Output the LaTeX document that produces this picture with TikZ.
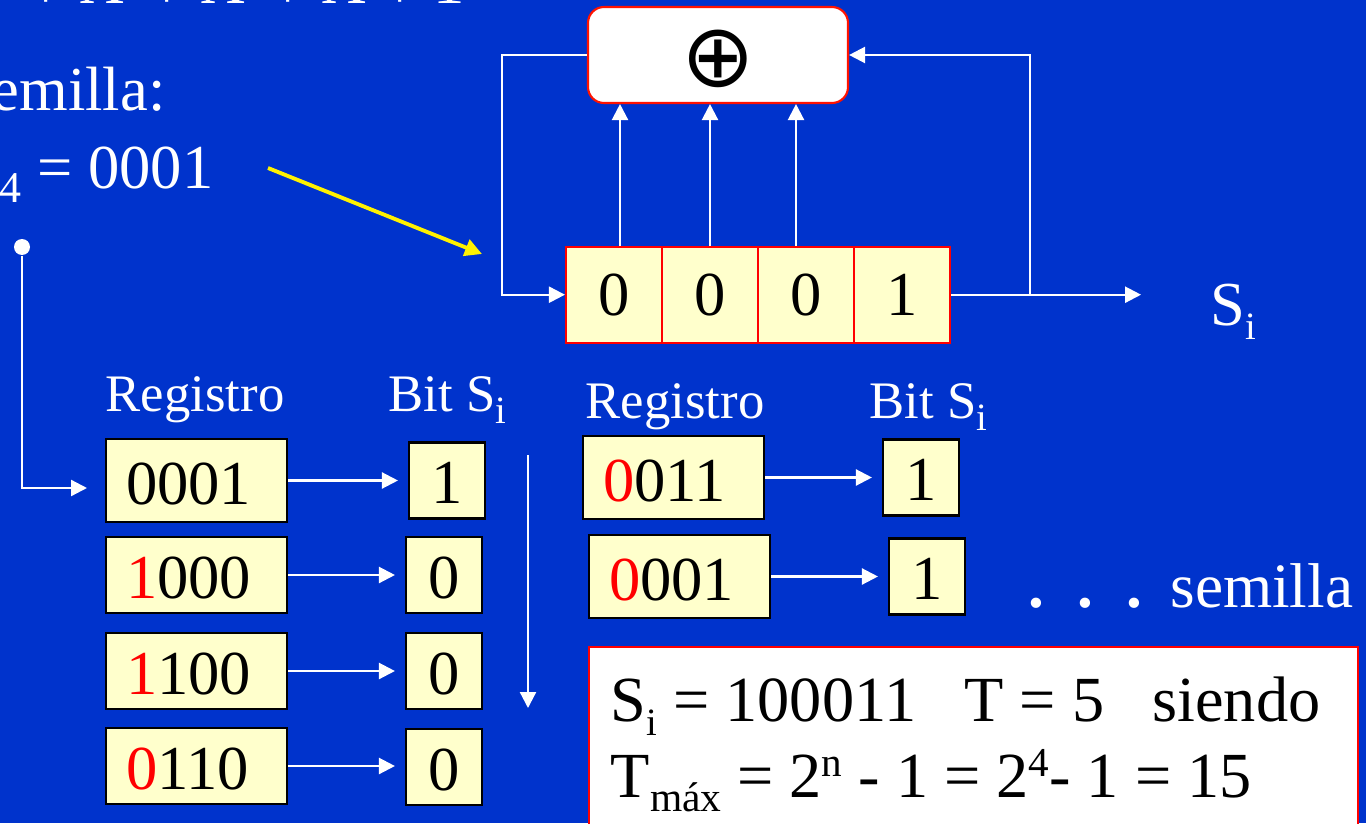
\documentclass[tikz,border=0pt]{standalone}
\usepackage{fontspec}
\usetikzlibrary{arrows.meta}
\setmainfont{Liberation Serif}
\newfontfamily\symbfont{DejaVu Sans}
\definecolor{slideblue}{HTML}{0033CC}
\definecolor{cellyellow}{HTML}{FFFFCC}
\newcommand{\bigtext}{\fontsize{17.8}{20}\selectfont}
\newcommand{\midtext}{\fontsize{15}{18}\selectfont}
\newcommand{\subi}[1]{\raisebox{-.23em}{\fontsize{11}{11}\selectfont #1}}
\newcommand{\supn}[1]{\raisebox{5.8pt}{\fontsize{11.7}{11.7}\selectfont #1}}
\newcommand{\plusb}{\raisebox{-1.2pt}{+}}
\tikzset{
  wire/.style={draw=white, line width=.65pt},
  flow/.style={wire, -{Triangle[length=.16cm,width=.16cm]}},
  regcell/.style={draw=red, line width=.6pt, fill=cellyellow, text=black, minimum width=.96cm, minimum height=.96cm, inner sep=0pt, font=\bigtext},
  regbox/.style={draw=black, line width=.6pt, fill=cellyellow, text=black, minimum width=1.81cm, text width=1.41cm, align=left, inner xsep=.2cm, inner ysep=0pt, text height=13.6pt, text depth=0pt, font=\bigtext},
  bitbox/.style={draw=black, line width=.6pt, fill=cellyellow, text=black, minimum width=.76cm, minimum height=.76cm, inner sep=0pt, text height=13.2pt, text depth=0pt, font=\bigtext},
  bigwhite/.style={text=white, anchor=base west, inner sep=0pt, font=\bigtext},
  midwhite/.style={text=white, anchor=base west, inner sep=0pt, font=\midtext},
  resulttext/.style={text=black, anchor=base west, inner sep=0pt, font=\fontsize{18.3}{20}\selectfont}
}
\begin{document}
\begin{tikzpicture}
  \fill[slideblue] (0,0) rectangle (13.66,-8.23);
  \useasboundingbox (0,0) rectangle (13.66,-8.23);
  % texto de la semilla
  \node[bigwhite] (polytext) at (.28,-.04) {\plusb{} X\hspace{.4em}\plusb{} X\hspace{.4em}\plusb{} X \plusb{} 1};
  \node[bigwhite] (seedtext) at (-.09,-1.11) {emilla:};
  \node[bigwhite] (seedval) at (-.01,-1.88) {\raisebox{-4.2pt}{\fontsize{12.5}{12.5}\selectfont 4} = 0001};
  % registro LFSR
  \node[draw=red!85!orange, line width=.6pt, rounded corners=.16cm, fill=white, minimum width=2.6cm, minimum height=.96cm] (xorbox) at (7.18,-.55) {};
  \node[text=black, inner sep=0pt, font=\symbfont\fontsize{25}{25}\selectfont] (xorsign) at (7.18,-.59) {⊕};
  \foreach \name/\val [count=\i] in {cellA/0,cellB/0,cellC/0,cellD/1}
    \node[regcell] (\name) at (5.66+.96*\i-.48,-2.947) {\val};
  \node[bigwhite] (siname) at (12.1,-3.25) {S\subi{i}};
  \coordinate (branch) at ([xshift=.79cm]cellD.east);
  \coordinate (outend) at ([xshift=1.9cm]cellD.east);
  \draw[flow] ([xshift=.06cm]cellA.north) -- ([xshift=.06cm]cellA.north |- xorbox.south);
  \draw[flow] (cellB.north) -- (cellB.north |- xorbox.south);
  \draw[flow] ([xshift=-.1cm]cellC.north) -- ([xshift=-.1cm]cellC.north |- xorbox.south);
  \draw[flow] (xorbox.west) -- ++(-.85,0) |- (cellA.west);
  \draw[wire] (cellD.east) -- (branch);
  \draw[flow] (branch) -- (outend);
  \draw[flow] (branch) |- (xorbox.east);
  \coordinate (yellowfrom) at (2.68,-1.68);
  \coordinate (yellowto) at (4.82,-2.54);
  \draw[draw=yellow, line width=1.1pt, -{Triangle[length=.17cm,width=.17cm]}] (yellowfrom) -- (yellowto);
  % tabla izquierda
  \node[midwhite] (regleft) at (1.05,-4.11) {Registro};
  \node[midwhite] (bitleft) at (3.88,-4.11) {Bit S\subi{i}};
  \node[regbox, minimum height=.83cm] (rowA) at (1.965,-4.805) {0001};
  \node[regbox, minimum height=.76cm] (rowB) at (1.965,-5.75) {\textcolor{red}{1}000};
  \node[regbox, minimum height=.76cm] (rowC) at (1.965,-6.71) {\textcolor{red}{1}100};
  \node[regbox, minimum height=.76cm] (rowD) at (1.965,-7.66) {\textcolor{red}{0}110};
  \node[bitbox] (bitA) at (4.47,-4.805) {1};
  \node[bitbox] (bitB) at (4.44,-5.75) {0};
  \node[bitbox] (bitC) at (4.44,-6.71) {0};
  \node[bitbox] (bitD) at (4.44,-7.67) {0};
  \foreach \from/\to in {rowA/bitA,rowB/bitB,rowC/bitC,rowD/bitD}
    \draw[flow, shorten >=.1cm] (\from.east) -- (\from.east -| \to.west);
  \node[circle, fill=white, inner sep=0pt, minimum size=.16cm] (seeddot) at (.22,-2.47) {};
  \coordinate (seedend) at (.87,-4.88);
  \draw[flow] (seeddot) |- (seedend);
  \coordinate (downfrom) at (5.28,-4.55);
  \coordinate (downto) at (5.28,-7.08);
  \draw[flow] (downfrom) -- (downto);
  % tabla derecha
  \node[midwhite] (regright) at (5.85,-4.18) {Registro};
  \node[midwhite] (bitright) at (8.69,-4.18) {Bit S\subi{i}};
  \node[regbox, minimum height=.83cm] (rowE) at (6.735,-4.775) {\textcolor{red}{0}011};
  \node[regbox, minimum height=.83cm] (rowF) at (6.795,-5.765) {\textcolor{red}{0}001};
  \node[bitbox] (bitE) at (9.21,-4.775) {1};
  \node[bitbox] (bitF) at (9.27,-5.765) {1};
  \foreach \from/\to in {rowE/bitE,rowF/bitF}
    \draw[flow, shorten >=.1cm] (\from.east) -- (\from.east -| \to.west);
  \node[bigwhite, font=\fontsize{18}{20}\selectfont] (dotstext) at (10.28,-6.07) {\textbf{.}\hspace{.52em}\textbf{.}\hspace{.52em}\textbf{.}\hspace{.45em}semilla};
  % resultado
  \node[draw=red, line width=.6pt, fill=white, minimum width=7.69cm, minimum height=1.9cm, anchor=north west, inner sep=0pt] (resultbox) at (5.875,-6.46) {};
  \node[resulttext] (resultA) at (6.1,-7.21) {S\subi{i} = 100011\hspace{.75em}T = 5\hspace{.75em}siendo};
  \node[resulttext] (resultB) at (6.1,-7.97) {T\raisebox{-.23em}{\fontsize{11.8}{11.8}\selectfont máx} = 2\supn{n} - 1 = 2\supn{4}- 1 = 15};
\end{tikzpicture}
\end{document}
